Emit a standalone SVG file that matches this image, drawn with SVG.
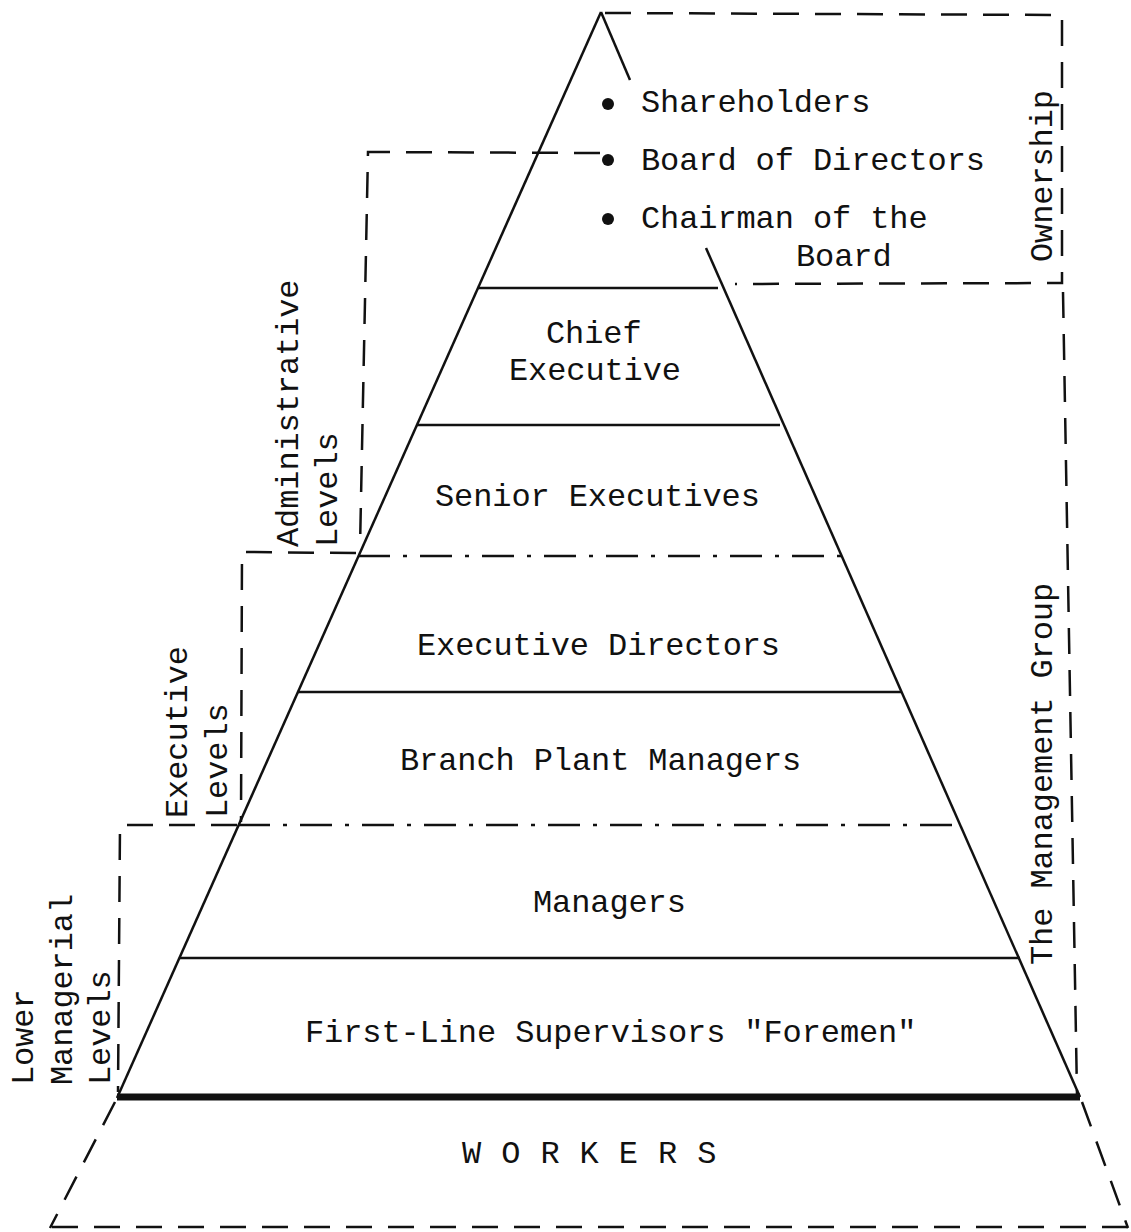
<svg xmlns="http://www.w3.org/2000/svg" width="1131" height="1232" viewBox="0 0 1131 1232">
<style>
text{font-family:"Liberation Mono","DejaVu Sans Mono",monospace;font-size:32px;fill:#111;letter-spacing:-0.1px}
.solid{stroke:#111;stroke-width:2.5;fill:none}
.thick{stroke:#111;stroke-width:7;fill:none}
.dash{stroke:#111;stroke-width:2.5;fill:none;stroke-dasharray:26 16}
.dashdot{stroke:#111;stroke-width:2.5;fill:none;stroke-dasharray:32 13 4 13}
</style>
<rect width="1131" height="1232" fill="#fff"/>
<g id="connectors">
  <!-- pyramid sides -->
  <line class="solid" x1="601" y1="12" x2="117" y2="1098"/>
  <line class="solid" x1="601" y1="12" x2="630" y2="80"/>
  <line class="solid" x1="706" y1="248" x2="1080" y2="1097"/>
  <!-- level dividers -->
  <line class="solid" x1="478" y1="288" x2="718" y2="288"/>
  <line class="solid" x1="417" y1="425" x2="780" y2="425"/>
  <line class="dashdot" x1="358" y1="556" x2="843" y2="556"/>
  <line class="solid" x1="298" y1="692" x2="902" y2="692"/>
  <line class="dashdot" x1="238" y1="825" x2="960" y2="825"/>
  <line class="solid" x1="179" y1="958" x2="1020" y2="958"/>
  <line class="thick" x1="117" y1="1097" x2="1080" y2="1097"/>
  <!-- workers base -->
  <line class="dash" x1="115" y1="1102" x2="50" y2="1228"/>
  <line class="dash" x1="52" y1="1227" x2="1131" y2="1227"/>
  <line class="dash" x1="1082" y1="1102" x2="1128" y2="1228"/>
  <!-- ownership bracket -->
  <polyline class="dash" points="605,13 1062,15 1062,283 735,284"/>
  <!-- management group bracket -->
  <line class="dash" x1="1063" y1="292" x2="1077" y2="1095"/>
  <!-- administrative bracket -->
  <polyline class="dash" points="600,153 368,152 360,548"/>
  <!-- executive bracket -->
  <polyline class="dash" points="356,553 242,552 241,822"/>
  <!-- lower managerial bracket -->
  <polyline class="dash" points="237,825 120,825 118,1092"/>
</g>
<g id="ownership-items">
  <circle cx="608" cy="104" r="6" fill="#111"/>
  <text x="641" y="112">Shareholders</text>
  <circle cx="608" cy="160" r="6" fill="#111"/>
  <text x="641" y="170">Board of Directors</text>
  <circle cx="608" cy="219" r="6" fill="#111"/>
  <text x="641" y="228">Chairman of the</text>
  <text x="796" y="266">Board</text>
</g>
<g id="chief-executive">
  <text x="546" y="343">Chief</text>
  <text x="509" y="380">Executive</text>
</g>
<g id="senior-executives"><text x="435" y="506">Senior Executives</text></g>
<g id="executive-directors"><text x="417" y="655">Executive Directors</text></g>
<g id="branch-plant-managers"><text x="400" y="770">Branch Plant Managers</text></g>
<g id="managers"><text x="533" y="912">Managers</text></g>
<g id="first-line-supervisors"><text x="305" y="1042">First-Line Supervisors "Foremen"</text></g>
<g id="workers"><text x="462" y="1163" style="letter-spacing:0.4px">W O R K E R S</text></g>
<g id="label-ownership"><text transform="translate(1052,262) rotate(-90)">Ownership</text></g>
<g id="label-management-group"><text transform="translate(1052,965) rotate(-90)">The Management Group</text></g>
<g id="label-administrative">
  <text transform="translate(298,547) rotate(-90)">Administrative</text>
  <text transform="translate(337,547) rotate(-90)">Levels</text>
</g>
<g id="label-executive">
  <text transform="translate(187,818) rotate(-90)">Executive</text>
  <text transform="translate(227,818) rotate(-90)">Levels</text>
</g>
<g id="label-lower-managerial">
  <text transform="translate(33,1085) rotate(-90)">Lower</text>
  <text transform="translate(72,1085) rotate(-90)">Managerial</text>
  <text transform="translate(110,1085) rotate(-90)">Levels</text>
</g>
</svg>
